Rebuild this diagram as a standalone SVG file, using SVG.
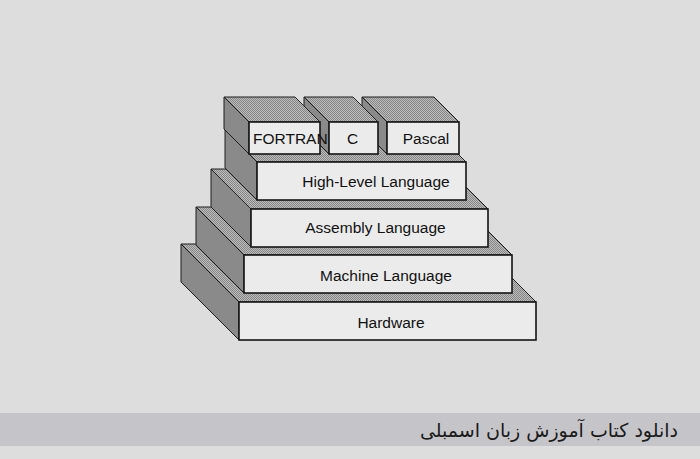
<svg xmlns="http://www.w3.org/2000/svg" width="700" height="459" viewBox="0 0 700 459">
<defs>
<pattern id="dither" width="2" height="2" patternUnits="userSpaceOnUse">
<rect width="2" height="2" fill="#bdbdbd"/>
<rect width="1" height="1" fill="#858585"/>
<rect x="1" y="1" width="1" height="1" fill="#858585"/>
</pattern>
<style>
.top{fill:url(#dither);stroke:#1e1e1e;stroke-width:1;stroke-linejoin:round}
.side{fill:#8a8a8a;stroke:#1e1e1e;stroke-width:1;stroke-linejoin:round}
.front{fill:#ebebeb;stroke:#141414;stroke-width:1.6}
.lbl{font-family:"Liberation Sans",Arial,sans-serif;font-size:15.5px;fill:#111111}
</style>
</defs>
<rect width="700" height="459" fill="#dddddd"/>

<g id="hardware">
<polygon class="top" points="239,302 536,302 478,244 181,244"/>
<polygon class="side" points="239,302 181,244 181,282 239,340"/>
<rect class="front" x="239" y="302" width="297" height="38"/>
<text class="lbl" x="391" y="328" text-anchor="middle">Hardware</text>
</g>

<g id="machine">
<polygon class="top" points="244,255 512,255 464,207 196,207"/>
<polygon class="side" points="244,255 196,207 196,245 244,293"/>
<rect class="front" x="244" y="255" width="268" height="38"/>
<text class="lbl" x="386" y="281" text-anchor="middle">Machine Language</text>
</g>

<g id="assembly">
<polygon class="top" points="251,209 488,209 448,169 211,169"/>
<polygon class="side" points="251,209 211,169 211,207 251,247"/>
<rect class="front" x="251" y="209" width="237" height="38"/>
<text class="lbl" x="375.5" y="233" text-anchor="middle">Assembly Language</text>
</g>

<g id="highlevel">
<polygon class="top" points="257,162 466,162 434,130 225,130"/>
<polygon class="side" points="257,162 225,130 225,168 257,200"/>
<rect class="front" x="257" y="162" width="209" height="38"/>
<text class="lbl" x="376" y="187" text-anchor="middle">High-Level Language</text>
</g>

<g id="pascal">
<polygon class="top" points="387,122 459,122 434,97 362,97"/>
<polygon class="side" points="387,122 362,97 362,129 387,154"/>
<rect class="front" x="387" y="122" width="72" height="32"/>
<text class="lbl" x="426" y="144" text-anchor="middle">Pascal</text>
</g>

<g id="c">
<polygon class="top" points="329,122 378,122 353,97 304,97"/>
<polygon class="side" points="329,122 304,97 304,129 329,154"/>
<rect class="front" x="329" y="122" width="49" height="32"/>
<text class="lbl" x="352.5" y="144" text-anchor="middle">C</text>
</g>

<g id="fortran">
<polygon class="top" points="249,122 320,122 295,97 224,97"/>
<polygon class="side" points="249,122 224,97 224,129 249,154"/>
<rect class="front" x="249" y="122" width="71" height="32"/>
<text class="lbl" x="253" y="144">FORTRAN</text>
</g>

<g id="caption">
<rect x="0" y="413" width="700" height="33" fill="#c5c5c9"/>
<text x="678" y="437" text-anchor="end" font-family="'DejaVu Sans','Noto Sans',sans-serif" font-size="19" fill="#1a1a1a">دانلود کتاب آموزش زبان اسمبلی</text>
</g>
</svg>
